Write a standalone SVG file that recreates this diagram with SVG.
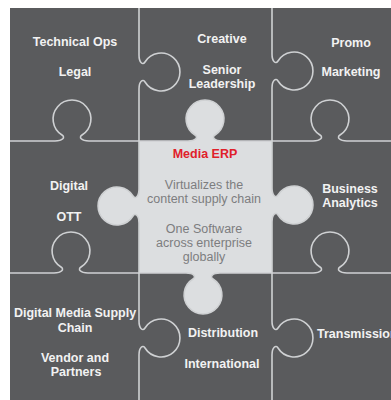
<svg xmlns="http://www.w3.org/2000/svg" width="391" height="400" viewBox="0 0 391 400">
<style>
.lbl{font-family:"Liberation Sans",Arial,sans-serif;font-size:12.5px;font-weight:bold;fill:#f2f2f2;text-anchor:middle}
.erp{font-family:"Liberation Sans",Arial,sans-serif;font-size:12.5px;font-weight:bold;fill:#e0202a;text-anchor:middle}
.sub{font-family:"Liberation Sans",Arial,sans-serif;font-size:12.5px;fill:#7c7d7f;text-anchor:middle}
.edge{fill:none;stroke:#cfd1d3;stroke-width:1.6}
</style>
<rect x="0" y="0" width="391" height="400" fill="#ffffff"/>
<rect id="board" x="10" y="8" width="381" height="392" fill="#5a5b5d"/>
<g id="piece-edges" class="edge">
<path d="M10,141 L55,141 C63,141 65.4,137.1 62,135 A18.9 18.9 0 1 1 82,135 C78.6,137.1 81,141 89,141 L139,141"/>
<path d="M272,141 L313,141 C321,141 323.4,137.1 320,135 A18.9 18.9 0 1 1 340,135 C336.6,137.1 339,141 347,141 L391,141"/>
<path d="M10,273 L54,273 C62,273 64.4,269.1 61,267 A18.9 18.9 0 1 1 81,267 C77.6,269.1 80,273 88,273 L139,273"/>
<path d="M272,273 L313,273 C321,273 323.4,269.1 320,267 A18.9 18.9 0 1 1 340,267 C336.6,269.1 339,273 347,273 L391,273"/>
<path d="M139,8 L139,55 C139,63 142.9,65.4 145,62 A18.9 18.9 0 1 1 145,82 C142.9,78.6 139,81 139,89 L139,141"/>
<path d="M272,8 L272,54 C272,62 275.9,64.4 278,61 A18.9 18.9 0 1 1 278,81 C275.9,77.6 272,80 272,88 L272,141"/>
<path d="M139,273 L139,321 C139,329 142.9,331.4 145,328 A18.9 18.9 0 1 1 145,348 C142.9,344.6 139,347 139,355 L139,400"/>
<path d="M272,273 L272,321 C272,329 275.9,331.4 278,328 A18.9 18.9 0 1 1 278,348 C275.9,344.6 272,347 272,355 L272,400"/>
</g>
<g id="media-erp">
<path d="M139,141 L188,141 C196,141 198.4,137.1 195,135 A18.9 18.9 0 1 1 215,135 C211.6,137.1 214,141 222,141 L272,141 L272,188 C272,196 275.9,198.4 278,195 A18.9 18.9 0 1 1 278,215 C275.9,211.6 272,214 272,222 L272,273 L220,273 C212,273 209.6,276.9 213,279 A18.9 18.9 0 1 1 193,279 C196.4,276.9 194,273 186,273 L139,273 L139,223 C139,215 135.1,212.6 133,216 A18.9 18.9 0 1 1 133,196 C135.1,199.4 139,197 139,189 Z" fill="#dcdee0" stroke="#cfd1d3" stroke-width="1.6"/>
<text class="erp" x="205" y="158">Media ERP</text>
<text class="sub" x="204" y="189">Virtualizes the</text>
<text class="sub" x="204" y="203">content supply chain</text>
<text class="sub" x="204" y="233">One Software</text>
<text class="sub" x="204" y="247">across enterprise</text>
<text class="sub" x="204" y="261">globally</text>
</g>
<g id="technical-ops">
<text class="lbl" x="75" y="46">Technical Ops</text>
<text class="lbl" x="75" y="76">Legal</text>
</g>
<g id="creative">
<text class="lbl" x="222" y="43">Creative</text>
<text class="lbl" x="222" y="74">Senior</text>
<text class="lbl" x="222" y="88">Leadership</text>
</g>
<g id="promo">
<text class="lbl" x="351" y="47">Promo</text>
<text class="lbl" x="351" y="76">Marketing</text>
</g>
<g id="digital">
<text class="lbl" x="69" y="190">Digital</text>
<text class="lbl" x="69" y="221">OTT</text>
</g>
<g id="business-analytics">
<text class="lbl" x="350" y="193">Business</text>
<text class="lbl" x="350" y="207">Analytics</text>
</g>
<g id="digital-media-supply-chain">
<text class="lbl" x="75" y="317">Digital Media Supply</text>
<text class="lbl" x="75" y="332">Chain</text>
<text class="lbl" x="75" y="362">Vendor and</text>
<text class="lbl" x="76" y="376">Partners</text>
</g>
<g id="distribution">
<text class="lbl" x="223" y="337">Distribution</text>
<text class="lbl" x="222" y="368">International</text>
</g>
<g id="transmission">
<text class="lbl" x="317" y="338" style="text-anchor:start">Transmission</text>
</g>
</svg>
